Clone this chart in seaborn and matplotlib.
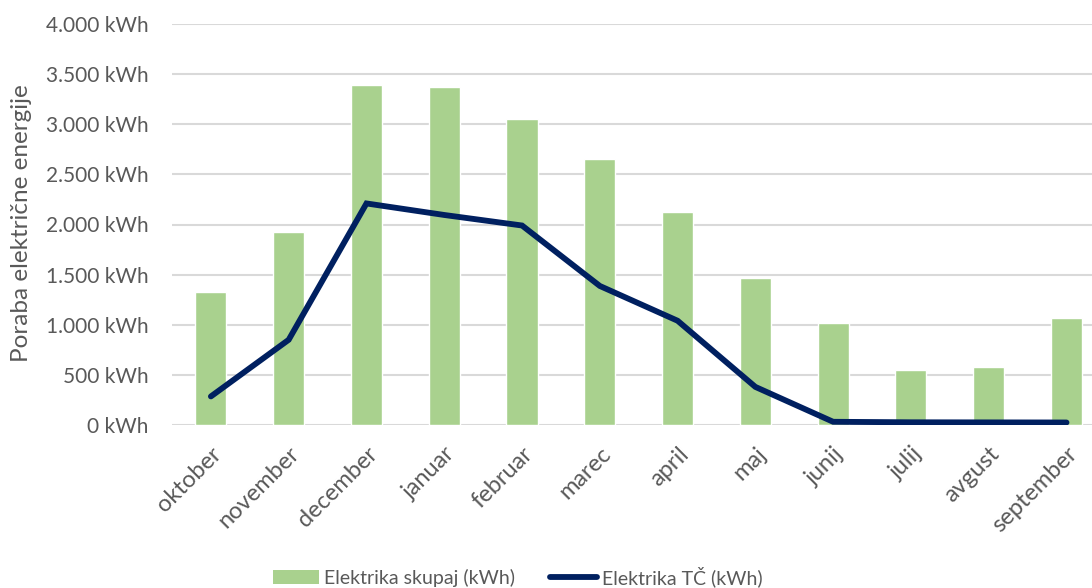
import numpy as np
import pandas as pd
import matplotlib
matplotlib.use("Agg")
import matplotlib.pyplot as plt
import seaborn as sns
from matplotlib.ticker import FuncFormatter, MultipleLocator
from matplotlib.patches import Patch
from matplotlib.lines import Line2D

months = ["oktober", "november", "december", "januar", "februar", "marec",
          "april", "maj", "junij", "julij", "avgust", "september"]
skupaj = [1325, 1925, 3390, 3370, 3055, 2650, 2120, 1465, 1022, 550, 575, 1068]
tc = [285, 850, 2210, 2095, 1990, 1387, 1040, 380, 32, 27, 26, 25]
bar_label = "Elektrika skupaj (kWh)"
line_label = "Elektrika TČ (kWh)"
y_label = "Poraba električne energije"

sns.set_theme(style="white")
plt.rcParams["font.family"] = ["Lato", "DejaVu Sans"]

text_color = "#595959"
green = "#A9D18E"
navy = "#002060"

fig = plt.figure(figsize=(10.92, 5.88), dpi=100)
ax_left, ax_right = 172, 1105.4
ax = fig.add_axes([ax_left / 1092, 1 - 425 / 588, (ax_right - ax_left) / 1092, (425 - 24) / 588])

df = pd.DataFrame({"mesec": months, "skupaj": skupaj, "tc": tc, "idx": np.arange(len(months))})
sns.barplot(data=df, x="mesec", y="skupaj", color=green, saturation=1, width=0.4, ax=ax)
sns.lineplot(data=df, x="idx", y="tc", color=navy, linewidth=4.2, ax=ax,
             solid_joinstyle="miter", solid_capstyle="round")

ax.set_xlim(-0.5, len(months) - 0.5)
ax.set_ylim(0, 4000)
ax.yaxis.set_major_locator(MultipleLocator(500))
ax.yaxis.set_major_formatter(FuncFormatter(lambda v, p: f"{int(v):,} kWh".replace(",", ".")))
ax.set_xticks(np.arange(len(months)))
ax.set_xticklabels(months, rotation=45, ha="right", va="top", rotation_mode="anchor")
ax.grid(axis="y", color="#D9D9D9", linewidth=1.5)
ax.set_axisbelow(True)
for s in ax.spines.values():
    s.set_visible(False)
ax.tick_params(axis="y", length=0, labelsize=15, colors=text_color, pad=17)
ax.tick_params(axis="x", length=0, labelsize=17, colors=text_color, pad=13)
ax.set_xlabel("")
ax.set_ylabel(y_label, fontsize=17.5, color=text_color)
ax.yaxis.set_label_coords((32 - ax_left) / (ax_right - ax_left), (425 - 223) / (425 - 24))

handles = [Patch(facecolor=green, edgecolor="none"),
           Line2D([0], [0], color=navy, linewidth=4.2, solid_capstyle="round")]
fig.legend(handles, [bar_label, line_label], loc="center", bbox_to_anchor=(0.474, 0.02),
           ncol=2, frameon=False, fontsize=14, labelcolor=text_color,
           handlelength=2.4, handleheight=0.7, handletextpad=0.25, columnspacing=1.8)

fig.savefig("out.png", dpi=100)
